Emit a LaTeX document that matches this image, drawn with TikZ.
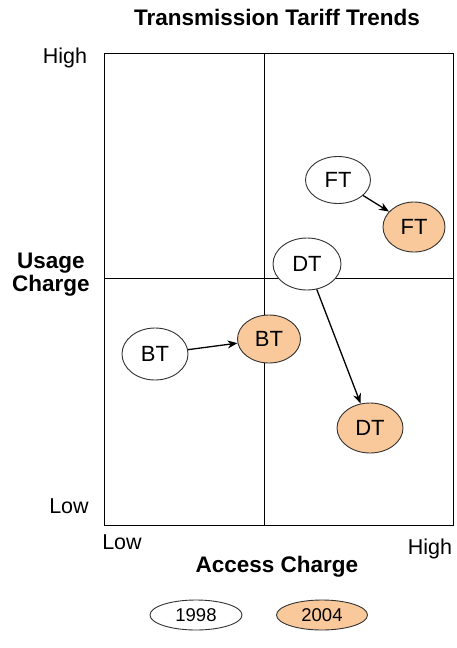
\documentclass[tikz,border=0pt]{standalone}
\usepackage{fontspec}
\setmainfont{Liberation Sans}
\usetikzlibrary{shapes.geometric, arrows.meta, positioning}
\definecolor{lightorange}{RGB}{250, 201, 155}
\definecolor{edgegray}{RGB}{50, 50, 50}

\begin{document}
\begin{tikzpicture}[x=1pt, y=-1pt,
  yr/.style={ellipse, draw=edgegray, line width=0.9pt, inner sep=0pt, font=\fontsize{22}{25}\selectfont},
  oldyr/.style={yr, fill=white},
  newyr/.style={yr, fill=lightorange},
  move/.style={-{Stealth[length=10pt, width=8pt]}, line width=1.3pt, black},
  axlab/.style={font=\fontsize{22.5}{25}\selectfont\bfseries, align=center},
  tick/.style={font=\fontsize{21.5}{24}\selectfont}]
  \useasboundingbox (0,0) rectangle (457,648);

  % quadrants
  \draw[line width=0.8pt] (104,53) rectangle (453,525);
  \draw[line width=0.8pt] (264,53) -- (264,525);
  \draw[line width=0.8pt] (104,278) -- (453,278);

  \node[axlab] (title) at (277,17) {Transmission Tariff Trends};
  \node[tick] (yhigh) at (65,58) {High};
  \node[tick] (ylow) at (69,506) {Low};
  \node[axlab, font=\fontsize{22.5}{23}\selectfont\bfseries] (ylab) at (51,275) {Usage\\Charge};
  \node[tick] (xlow) at (122,542) {Low};
  \node[tick] (xhigh) at (430,549) {High};
  \node[axlab] (xlab) at (277,567) {Access Charge};

  % 1998
  \node[oldyr, minimum width=65pt, minimum height=47pt] (ft98) at (338,180) {FT};
  \node[oldyr, minimum width=68pt, minimum height=52pt] (dt98) at (307,264) {DT};
  \node[oldyr, minimum width=66pt, minimum height=52pt] (bt98) at (155,354) {BT};

  % 2004
  \node[newyr, minimum width=62pt, minimum height=50pt] (ft04) at (414,227) {FT};
  \node[newyr, minimum width=63pt, minimum height=48pt] (bt04) at (269,339) {BT};
  \node[newyr, minimum width=66pt, minimum height=50pt] (dt04) at (370,428) {DT};

  \draw[move] (ft98) -- (ft04);
  \draw[move] (dt98) -- (dt04);
  \draw[move] (bt98) -- (bt04);

  % legend
  \node[oldyr, minimum width=92pt, minimum height=30pt, font=\fontsize{18.5}{20}\selectfont] (key98) at (196,615) {1998};
  \node[newyr, minimum width=91pt, minimum height=30pt, font=\fontsize{18.5}{20}\selectfont] (key04) at (322,615) {2004};
\end{tikzpicture}
\end{document}
